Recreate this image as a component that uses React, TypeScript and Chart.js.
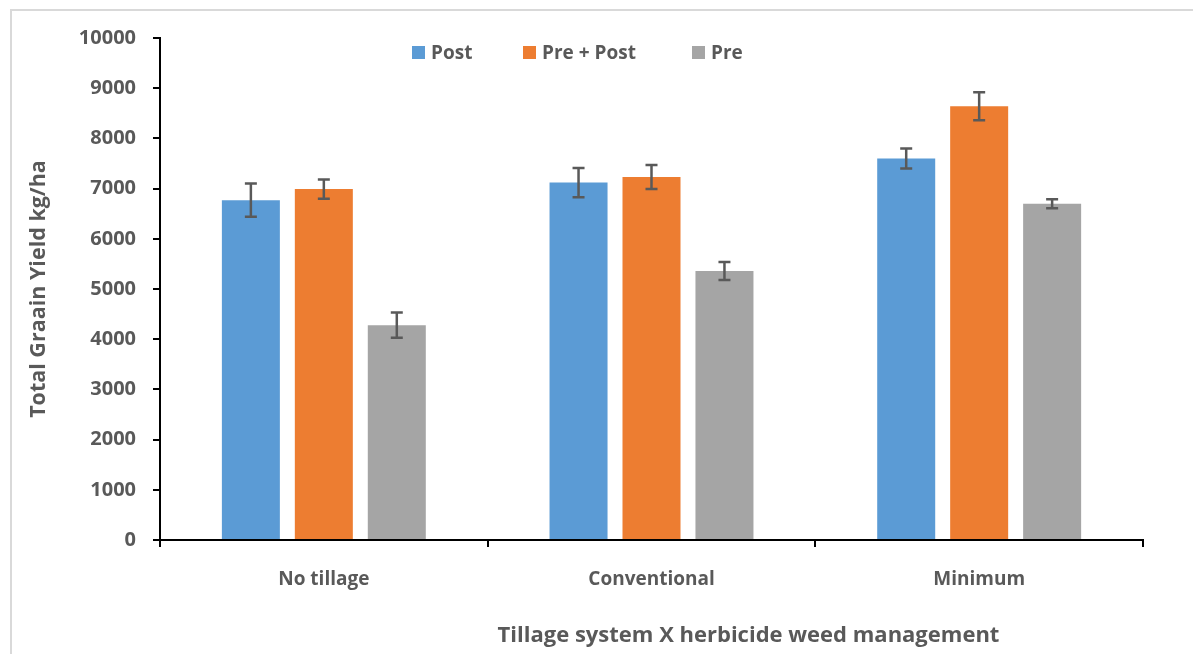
import React, { useEffect, useRef } from "react";
import { Chart, registerables } from "chart.js";

Chart.register(...registerables);

const categories = ["No tillage", "Conventional", "Minimum"];
const seriesNames = ["Post", "Pre + Post", "Pre"];
const postValues = [6770, 7120, 7600];
const prePostValues = [6990, 7230, 8640];
const preValues = [4280, 5360, 6700];
const postErrors = [330, 290, 200];
const prePostErrors = [190, 240, 280];
const preErrors = [250, 180, 90];
const colors = ["#5B9BD5", "#ED7D31", "#A5A5A5"];
const yTitle = "Total Graain Yield kg/ha";
const xTitle = "Tillage system X herbicide weed management";

const FONT = "'Open Sans', Lato, sans-serif";
const TEXT = "#595959";

const errorBarPlugin = {
  id: "errorBars",
  afterDatasetsDraw(chart: any) {
    const ctx = chart.ctx;
    const yScale = chart.scales.y;
    chart.data.datasets.forEach((ds: any, di: number) => {
      const meta = chart.getDatasetMeta(di);
      const errs: number[] = ds.errors || [];
      meta.data.forEach((bar: any, i: number) => {
        const v = ds.data[i];
        const e = errs[i] || 0;
        const x = bar.x;
        const yTop = yScale.getPixelForValue(v + e);
        const yBot = yScale.getPixelForValue(v - e);
        ctx.save();
        ctx.strokeStyle = "#595959";
        ctx.lineWidth = 2.5;
        ctx.beginPath();
        ctx.moveTo(x, yTop);
        ctx.lineTo(x, yBot);
        ctx.moveTo(x - 6, yTop);
        ctx.lineTo(x + 6, yTop);
        ctx.moveTo(x - 6, yBot);
        ctx.lineTo(x + 6, yBot);
        ctx.stroke();
        ctx.restore();
      });
    });
  },
};

export default function App() {
  const canvasRef = useRef<HTMLCanvasElement | null>(null);

  useEffect(() => {
    if (!canvasRef.current) return;
    const valueSets = [postValues, prePostValues, preValues];
    const errSets = [postErrors, prePostErrors, preErrors];
    const chart = new Chart(canvasRef.current, {
      type: "bar",
      data: {
        labels: categories,
        datasets: seriesNames.map((name, i) => ({
          label: name,
          data: valueSets[i],
          errors: errSets[i],
          backgroundColor: colors[i],
          borderWidth: 0,
          categoryPercentage: 0.668,
          barPercentage: 0.795,
        })) as any,
      },
      options: {
        responsive: false,
        animation: false,
        layout: { padding: { top: 38, right: 50, left: 0, bottom: 0 } },
        plugins: {
          legend: { display: false },
          tooltip: { enabled: false },
          title: { display: false },
        },
        scales: {
          x: {
            afterFit: (s: any) => {
              s.height = 114;
            },
            grid: {
              drawOnChartArea: false,
              drawTicks: true,
              tickLength: 7,
              color: "#000000",
              lineWidth: 2,
              offset: true,
            },
            border: { display: true, color: "#000000", width: 2 },
            ticks: {
              color: TEXT,
              font: { family: FONT, size: 19, weight: "bold" },
              padding: 21,
            },
          },
          y: {
            min: 0,
            max: 10000,
            afterFit: (s: any) => {
              s.width = 160;
            },
            grid: {
              drawOnChartArea: false,
              drawTicks: true,
              tickLength: 7,
              color: "#000000",
              lineWidth: 2,
            },
            border: { display: true, color: "#000000", width: 2 },
            ticks: {
              stepSize: 1000,
              color: TEXT,
              font: { family: FONT, size: 20, weight: "bold" },
              padding: 17,
              callback: (v: any) => String(v),
            },
            title: {
              display: true,
              text: yTitle,
              color: TEXT,
              font: { family: FONT, size: 21.5, weight: "bold" },
              padding: { top: 26, bottom: 0 },
            },
          },
        },
      } as any,
      plugins: [errorBarPlugin],
    });
    return () => chart.destroy();
  }, []);

  const legendItem = (i: number, left: number) => (
    <div
      key={i}
      style={{
        position: "absolute",
        left,
        top: 39,
        height: 26,
        display: "flex",
        alignItems: "center",
        fontFamily: FONT,
        fontWeight: "bold",
        fontSize: 19,
        color: TEXT,
        whiteSpace: "nowrap",
      }}
    >
      <span
        style={{
          display: "inline-block",
          width: 13,
          height: 13,
          background: colors[i],
          marginRight: 6,
        }}
      />
      <span>{seriesNames[i]}</span>
    </div>
  );

  return (
    <div
      style={{
        position: "fixed",
        left: 0,
        top: 0,
        width: 1193,
        height: 654,
        background: "#ffffff",
        overflow: "hidden",
      }}
    >
      <div
        style={{
          position: "absolute",
          left: 10,
          top: 9,
          width: 1200,
          height: 700,
          borderLeft: "2px solid #d9d9d9",
          borderTop: "2px solid #d9d9d9",
        }}
      />
      <canvas
        ref={canvasRef}
        width={1193}
        height={654}
        style={{ position: "absolute", left: 0, top: 0 }}
      />
      {legendItem(0, 412)}
      {legendItem(1, 523)}
      {legendItem(2, 692)}
      <div
        style={{
          position: "absolute",
          left: 0,
          width: 1497,
          top: 618,
          textAlign: "center",
          fontFamily: FONT,
          fontWeight: "bold",
          fontSize: 22,
          color: TEXT,
          whiteSpace: "nowrap",
        }}
      >
        {xTitle}
      </div>
    </div>
  );
}
